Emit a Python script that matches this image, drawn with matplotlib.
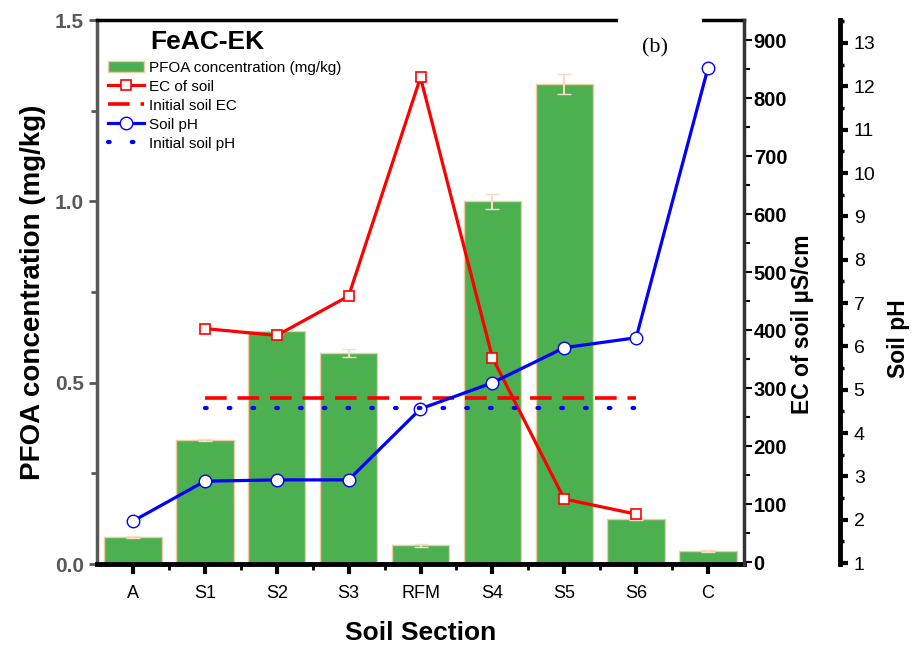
import numpy as np
import matplotlib
matplotlib.use("Agg")
import matplotlib.pyplot as plt
from matplotlib.patches import Rectangle
from matplotlib.ticker import MultipleLocator, FixedLocator

plt.rcParams['font.family'] = ['Liberation Sans', 'DejaVu Sans']

# Données
sections = ['A', 'S1', 'S2', 'S3', 'RFM', 'S4', 'S5', 'S6', 'C']
pfoa = [0.074, 0.342, 0.642, 0.582, 0.052, 1.0, 1.323, 0.124, 0.036]
pfoa_err = [0.003, 0.004, 0.006, 0.010, 0.004, 0.020, 0.027, 0.003, 0.002]
ec_sections = ['S1', 'S2', 'S3', 'RFM', 'S4', 'S5', 'S6']
ec = [403, 391, 459, 836, 353, 109, 83]
ph = [1.97, 2.89, 2.92, 2.92, 4.56, 5.16, 5.97, 6.20, 12.43]
initial_ec = 284
initial_ph = 4.58
initial_span = ['S1', 'S6']

x = np.arange(len(sections))
x_ec = [sections.index(s) for s in ec_sections]
x_init = [sections.index(s) for s in initial_span]

fig = plt.figure(figsize=(9.13, 6.48), dpi=100)
ax = fig.add_axes([97/913, 1-564/648, (744-97)/913, (564-20)/648])
ax2 = ax.twinx()
ax3 = ax.twinx()

# Barres
bars = ax.bar(x, pfoa, width=0.8, color='#4CAF50', edgecolor='#F2C9A0', linewidth=1,
              label='PFOA concentration (mg/kg)')
ax.errorbar(x, pfoa, yerr=pfoa_err, fmt='none', ecolor='#F8DCC8', capsize=5, elinewidth=1.5)

# EC
l_ec, = ax2.plot(x_ec, ec, color='red', lw=2.3, marker='s', ms=7, mfc='white', mec='red',
                 mew=1.2, label='EC of soil')
l_ec0, = ax2.plot(x_init, [initial_ec]*2, color='red', lw=2.6, dashes=(6, 3),
                  label='Initial soil EC')

# pH
l_ph, = ax3.plot(x, ph, color='blue', lw=2.3, marker='o', ms=9, mfc='white', mec='blue',
                 mew=1.0, label='Soil pH')
l_ph0, = ax3.plot(x_init, [initial_ph]*2, color='blue', lw=3, dashes=(0.4, 5.3),
                  dash_capstyle='round', label='Initial soil pH')

# Axe gauche
ax.set_xlim(-0.5, 8.5)
ax.set_ylim(0, 1.5)
ax.set_xticks(x)
ax.set_xticklabels(sections, fontsize=13)
ax.xaxis.set_minor_locator(FixedLocator(x[:-1] + 0.5))
ax.set_yticks([0, 0.5, 1.0, 1.5])
ax.yaxis.set_minor_locator(MultipleLocator(0.25))
ax.set_yticklabels(['0.0', '0.5', '1.0', '1.5'], fontsize=15, fontweight='bold', color='#595959')
ax.tick_params(axis='x', which='major', length=7, width=3, direction='out', pad=8)
ax.tick_params(axis='x', which='minor', length=4, width=2, direction='out')
ax.tick_params(axis='y', which='major', length=6, width=2, direction='out', colors='#595959')
ax.tick_params(axis='y', which='minor', length=4, width=2, direction='out', colors='#595959')
ax.set_ylabel('PFOA concentration (mg/kg)', fontsize=20, fontweight='bold', labelpad=6)
ax.set_xlabel('Soil Section', fontsize=19, fontweight='bold', labelpad=14)
ax.spines['left'].set_color('#595959')
ax.spines['left'].set_linewidth(2.5)
ax.spines['bottom'].set_linewidth(3.5)
ax.spines['top'].set_linewidth(2.5)
ax.spines['right'].set_visible(False)

# Axe EC
ax2.set_ylim(-3, 935)
ax2.yaxis.set_major_locator(MultipleLocator(100))
ax2.yaxis.set_minor_locator(MultipleLocator(50))
ax2.tick_params(axis='y', which='major', length=6, width=1.5, labelsize=14.5, pad=1)
ax2.tick_params(axis='y', which='minor', length=4, width=1.5)
for t in ax2.get_yticklabels():
    t.set_fontweight('bold')
ax2.set_ylabel('EC of soil µS/cm', fontsize=16.5, fontweight='bold')
ax2.yaxis.set_label_coords(1.072, 0.44)
ax2.spines['right'].set_linewidth(2.5)
ax2.spines['right'].set_color('#333333')
for s in ['top', 'left', 'bottom']:
    ax2.spines[s].set_visible(False)

# Axe pH
ax3.set_ylim(0.98, 13.53)
ax3.spines['right'].set_position(('outward', 69))
ax3.spines['right'].set_linewidth(3.5)
ax3.yaxis.set_major_locator(MultipleLocator(1))
ax3.yaxis.set_minor_locator(MultipleLocator(0.5))
ax3.tick_params(axis='y', which='major', length=6, width=3, labelsize=14, pad=4)
ax3.tick_params(axis='y', which='minor', length=3, width=2.5)
ax3.set_ylabel('Soil pH', fontsize=16.5, fontweight='bold')
ax3.yaxis.set_label_coords(1.221, 0.415)
for s in ['top', 'left', 'bottom']:
    ax3.spines[s].set_visible(False)

# Légende
ax3.text(0.082, 0.982, 'FeAC-EK', transform=ax.transAxes, fontsize=19, fontweight='bold',
         va='top', ha='left')
ax3.legend([bars, l_ec, l_ec0, l_ph, l_ph0],
           ['PFOA concentration (mg/kg)', 'EC of soil', 'Initial soil EC', 'Soil pH', 'Initial soil pH'],
           loc='upper left', bbox_to_anchor=(0.0, 0.945), frameon=False, fontsize=11,
           handlelength=2.4, handletextpad=0.3, labelspacing=0.33, borderaxespad=0.3)

# (b)
fig.patches.append(Rectangle((618/913, 1-66/648), 84/913, 52/648, transform=fig.transFigure,
                             facecolor='white', edgecolor='none', zorder=5))
fig.text(655/913, 1-48/648, '(b)', fontsize=16, family=['Liberation Serif'],
         ha='center', va='center', zorder=6)

fig.savefig('out.png', dpi=100)
